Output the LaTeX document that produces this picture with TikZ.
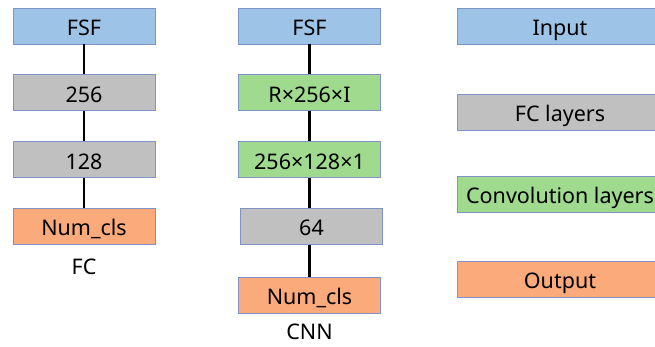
\documentclass[tikz,border=0pt]{standalone}
\usepackage{fontspec}
\setmainfont{Noto Sans}
\usepackage{tikz}
\usetikzlibrary{positioning}
\definecolor{netblue}{HTML}{9DC3E6}
\definecolor{netgray}{HTML}{C0C0C0}
\definecolor{netgreen}{HTML}{A0DA8F}
\definecolor{netorange}{HTML}{FBAA7B}
\definecolor{netedge}{HTML}{7F93C6}

\begin{document}
\begin{tikzpicture}[x=1pt, y=-1pt, node distance=30pt,
  every node/.style={font=\fontsize{21.5}{24}\selectfont},
  layer/.style={rectangle,draw=netedge,line width=0.9pt,minimum width=142pt,minimum height=36pt,inner sep=0pt,text height=22pt,text depth=3.5pt},
  inbox/.style={layer,fill=netblue}, fcbox/.style={layer,fill=netgray},
  convbox/.style={layer,fill=netgreen}, outbox/.style={layer,fill=netorange},
  link/.style={draw=black,line width=2.3pt}]
\useasboundingbox (0,0) rectangle (655,347);
% FC network
\node[inbox] (fsfa) at (84,26) {FSF};
\node[fcbox,below=of fsfa] (fca) {256};
\node[fcbox,below=of fca] (fcb) {128};
\node[outbox,below=of fcb] (outa) {Num\_cls};
\node (namea) at (84,267) {FC};
\draw[link] (fsfa) -- (fca) (fca) -- (fcb) (fcb) -- (outa);
% CNN network
\node[inbox] (fsfb) at (309.5,26) {FSF};
\node[convbox,below=of fsfb] (conva) {R×256×I};
\node[convbox,below=of conva] (convb) {256×128×1};
\node[fcbox,below=of convb,xshift=2pt] (fcc) {64};
\node[outbox,below=32pt of fcc,xshift=-2pt] (outb) {Num\_cls};
\node (nameb) at (309.5,332) {CNN};
\draw[link] (fsfb) -- (conva) (conva) -- (convb) (convb) -- (convb|-fcc.north) (outb|-fcc.south) -- (outb);
% legend
\node[inbox,minimum width=206pt] (legin) at (560,26) {Input};
\node[fcbox,minimum width=206pt] (legfc) at (560,112) {FC layers};
\node[convbox,minimum width=206pt] (legconv) at (560,194) {Convolution layers};
\node[outbox,minimum width=206pt] (legout) at (560,279) {Output};
\end{tikzpicture}
\end{document}
